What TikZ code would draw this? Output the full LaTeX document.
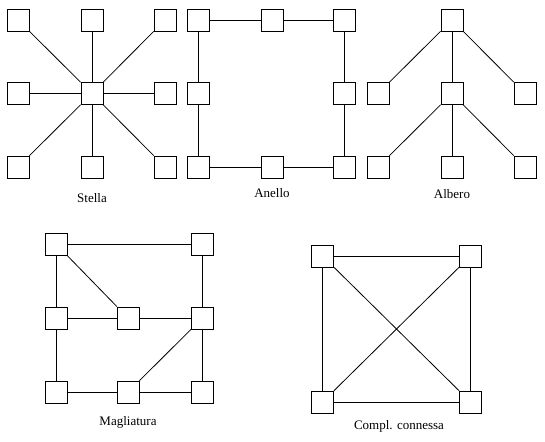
\documentclass[tikz,border=0pt]{standalone}
\usepackage{fontspec}
\setmainfont{Liberation Serif}
\tikzset{
  nodo/.style={draw, line width=0.8pt, minimum size=22pt, inner sep=0pt},
  lato/.style={line width=0.8pt},
  titolo/.style={font=\fontsize{13}{15}\selectfont}
}
\begin{document}
\begin{tikzpicture}[x=1pt,y=-1pt]
  \useasboundingbox (0,0) rectangle (545,441);
  % Stella
  \node[nodo] (s0) at (92,93.5) {};
  \node[nodo] (s1) at (18,20) {};
  \node[nodo] (s2) at (92,20) {};
  \node[nodo] (s3) at (165,20) {};
  \node[nodo] (s4) at (165,93.5) {};
  \node[nodo] (s5) at (165,167) {};
  \node[nodo] (s6) at (92,167) {};
  \node[nodo] (s7) at (18,167) {};
  \node[nodo] (s8) at (18,93.5) {};
  \foreach \i in {1,...,8}
    \draw[lato] (s0) -- (s\i);
  \node[titolo] (tst) at (92,198) {Stella};

  % Anello
  \node[nodo] (a1) at (198,20) {};
  \node[nodo] (a2) at (272.5,20) {};
  \node[nodo] (a3) at (344.5,20) {};
  \node[nodo] (a4) at (344.5,93.5) {};
  \node[nodo] (a5) at (344.5,167) {};
  \node[nodo] (a6) at (272.5,167) {};
  \node[nodo] (a7) at (198,167) {};
  \node[nodo] (a8) at (198,93.5) {};
  \draw[lato] (a1) -- (a2) -- (a3) -- (a4) -- (a5) -- (a6) -- (a7) -- (a8) -- (a1);
  \node[titolo] (tan) at (272,193) {Anello};

  % Albero
  \node[nodo] (b0) at (452,20) {};
  \node[nodo] (b1) at (378,93.5) {};
  \node[nodo] (b2) at (452,93.5) {};
  \node[nodo] (b3) at (525,93.5) {};
  \node[nodo] (b4) at (378,167) {};
  \node[nodo] (b5) at (452,167) {};
  \node[nodo] (b6) at (525,167) {};
  \draw[lato] (b0) -- (b1);
  \draw[lato] (b0) -- (b2);
  \draw[lato] (b0) -- (b3);
  \draw[lato] (b2) -- (b4);
  \draw[lato] (b2) -- (b5);
  \draw[lato] (b2) -- (b6);
  \node[titolo] (tal) at (452,194) {Albero};

  % Magliatura
  \node[nodo] (m1) at (56,244) {};
  \node[nodo] (m2) at (202.5,244) {};
  \node[nodo] (m3) at (56,318) {};
  \node[nodo] (m4) at (128,318) {};
  \node[nodo] (m5) at (202.5,318) {};
  \node[nodo] (m6) at (56,392) {};
  \node[nodo] (m7) at (128,392) {};
  \node[nodo] (m8) at (202.5,392) {};
  \draw[lato] (m1) -- (m2);
  \draw[lato] (m1) -- (m3);
  \draw[lato] (m1) -- (m4);
  \draw[lato] (m3) -- (m4) -- (m5);
  \draw[lato] (m2) -- (m5);
  \draw[lato] (m3) -- (m6);
  \draw[lato] (m5) -- (m8);
  \draw[lato] (m5) -- (m7);
  \draw[lato] (m6) -- (m7) -- (m8);
  \node[titolo] (tma) at (128,422) {Magliatura};

  % Compl. connessa
  \node[nodo] (c1) at (322.5,256) {};
  \node[nodo] (c2) at (470.5,256) {};
  \node[nodo] (c3) at (322.5,402) {};
  \node[nodo] (c4) at (470.5,402) {};
  \draw[lato] (c1) -- (c2) -- (c4) -- (c3) -- (c1);
  \draw[lato] (c1) -- (c4);
  \draw[lato] (c2) -- (c3);
  \node[titolo] (tco) at (399,426) {Compl. connessa};
\end{tikzpicture}
\end{document}
